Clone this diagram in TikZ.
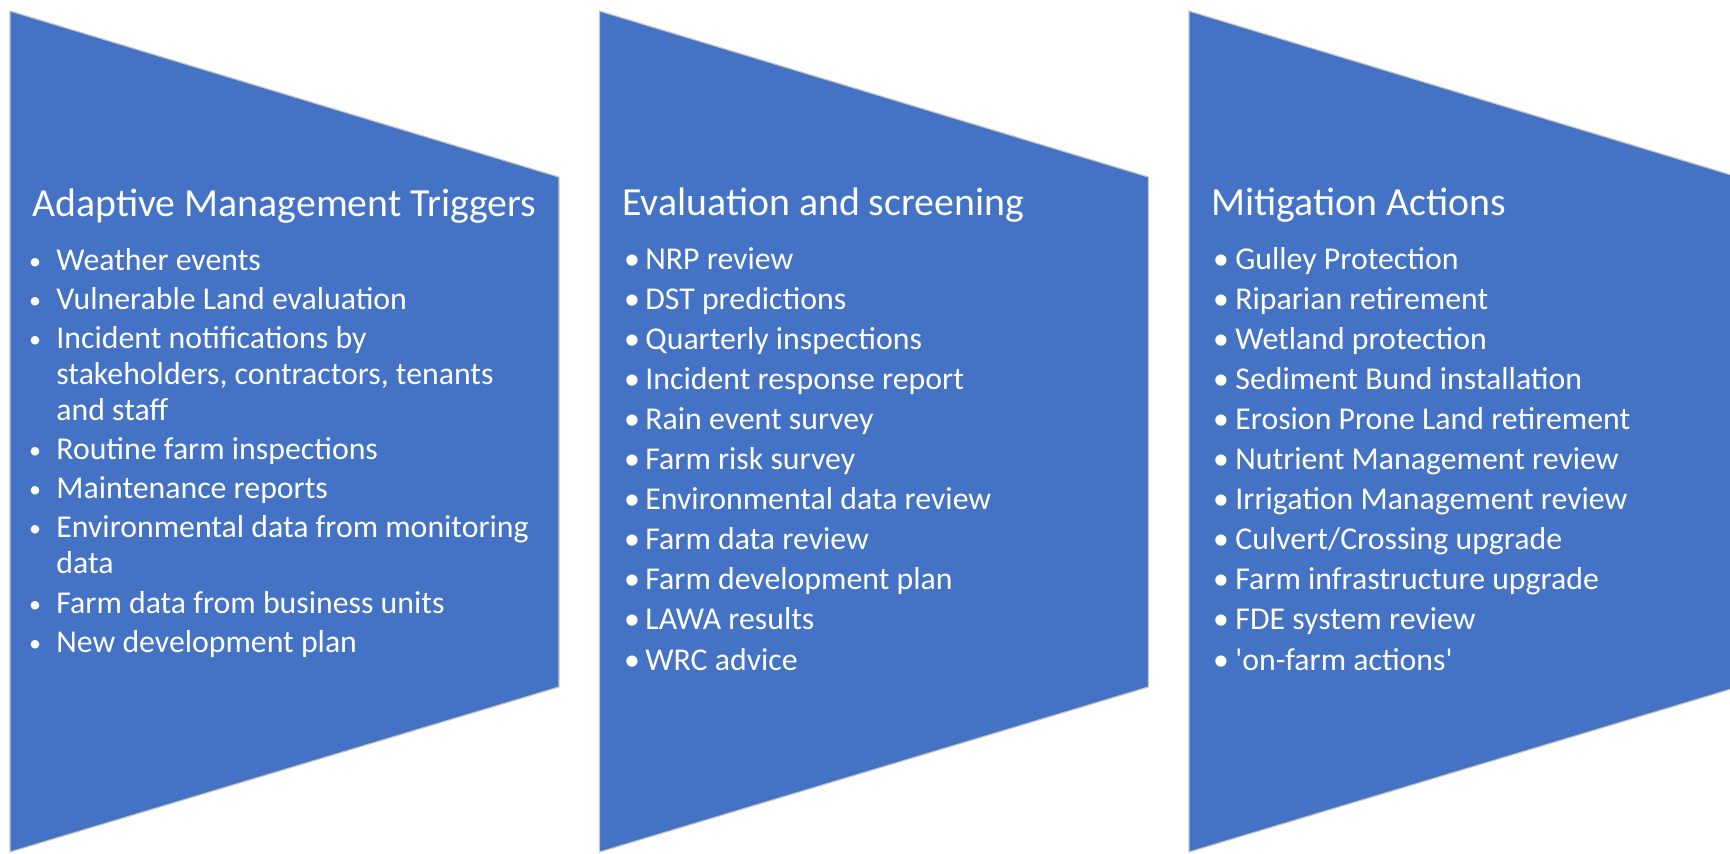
\documentclass[tikz,border=0pt]{standalone}
\usepackage{fontspec}
\setmainfont{Carlito}
\usetikzlibrary{positioning}
\definecolor{panelblue}{HTML}{4472C4}

\begin{document}
\begin{tikzpicture}[x=0.5pt, y=-0.5pt,
      panel/.style={fill=panelblue, draw=black!22, line width=0.6pt},
      head/.style={anchor=base west, text=white, inner sep=0pt, font=\fontsize{19.9}{24}\selectfont},
      entry/.style={anchor=base west, text=white, inner sep=0pt, font=\fontsize{15.9}{19}\selectfont},
      dot/.style={anchor=base, text=white, inner sep=0pt, font=\fontsize{15.9}{19}\selectfont},
      smalldot/.style={dot, font=\fontsize{12}{14}\selectfont}]
    \useasboundingbox (0,0) rectangle (1730,853);
    % the three chevron panels, last one runs off the page
    \begin{scope}
      \clip (0,0) rectangle (1730,853);
      \foreach \x in {10,599.5,1189}
        \draw[panel] (\x,11) -- ++(549,166) -- ++(0,510) -- ++(-549,165) -- cycle;
    \end{scope}
    % triggers
    \node[head] (trig) at (32,216) {Adaptive Management Triggers};
    \foreach \y/\t [count=\i] in {270/Weather events, 309/Vulnerable Land evaluation,
        348/Incident notifications by, 384/{stakeholders, contractors, tenants}, 420/and staff,
        459/Routine farm inspections, 498/Maintenance reports,
        537/Environmental data from monitoring, 573/data,
        613/Farm data from business units, 652/New development plan}
      \node[entry] (trig-\i) at (56,\y) {\t};
    \foreach \y [count=\i] in {270,309,348,459,498,537,613,652}
      \node[smalldot] (trigdot-\i) at (35,\y-1) {\textbullet};
    % screening
    \node[head] (eval) at (622,215) {Evaluation and screening};
    \foreach \t [count=\i] in {NRP review, DST predictions, Quarterly inspections,
        Incident response report, Rain event survey, Farm risk survey,
        Environmental data review, Farm data review, Farm development plan,
        LAWA results, WRC advice}
      {
      \node[entry] (eval-\i) at (645,{269+40.1*(\i-1)}) {\t};
      \node[dot] (evaldot-\i) at (632,{269+40.1*(\i-1)}) {\textbullet};
      }
    % actions
    \node[head] (miti) at (1211,215) {Mitigation Actions};
    \foreach \t [count=\i] in {Gulley Protection, Riparian retirement, Wetland protection,
        Sediment Bund installation, Erosion Prone Land retirement,
        Nutrient Management review, Irrigation Management review,
        Culvert/Crossing upgrade, Farm infrastructure upgrade,
        FDE system review, \textquotesingle on-farm actions\textquotesingle}
      {
      \node[entry] (miti-\i) at (1235,{269+40.1*(\i-1)}) {\t};
      \node[dot] (mitidot-\i) at (1221,{269+40.1*(\i-1)}) {\textbullet};
      }
\end{tikzpicture}
\end{document}
